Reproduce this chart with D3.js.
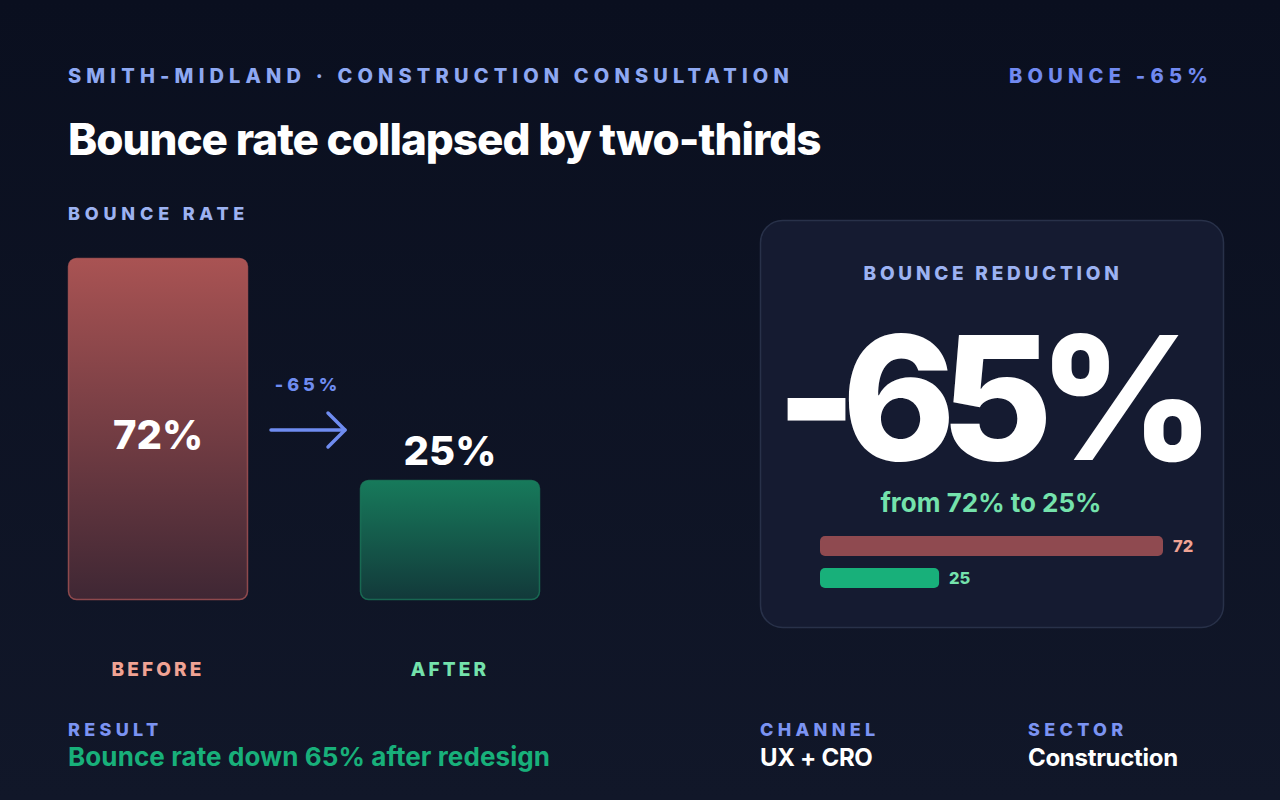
<!DOCTYPE html>
<html>
<head>
<meta charset="utf-8">
<script src="https://cdn.jsdelivr.net/npm/d3@7"></script>
<style>
  html, body { margin: 0; padding: 0; background: #0c1121; }
  svg { display: block; font-family: Inter, "Noto Sans", sans-serif; }
</style>
</head>
<body>
<div id="chart"></div>
<script>
var categories = ["BEFORE", "AFTER"];
var bounceRates = [72, 25];
var barLabels = ["72%", "25%"];
var changeLabel = "-65%";
var miniLabels = ["72", "25"];
var footerKeys = ["RESULT", "CHANNEL", "SECTOR"];
var footerValues = ["Bounce rate down 65% after redesign", "UX + CRO", "Construction"];

var width = 1280, height = 800;

var svg = d3.select("#chart").append("svg")
    .attr("width", width)
    .attr("height", height);

var defs = svg.append("defs");

function vGrad(id, top, bottom) {
  var g = defs.append("linearGradient").attr("id", id)
      .attr("x1", 0).attr("y1", 0).attr("x2", 0).attr("y2", 1);
  g.append("stop").attr("offset", "0%").attr("stop-color", top);
  g.append("stop").attr("offset", "100%").attr("stop-color", bottom);
}
vGrad("bg", "#0a0f1f", "#111729");
vGrad("gBefore", "#a95353", "#3f2734");
vGrad("gAfter", "#177a5b", "#12393a");

svg.append("rect").attr("width", width).attr("height", height).attr("fill", "url(#bg)");

// header
svg.append("text")
    .attr("x", 68).attr("y", 83)
    .attr("fill", "#8ea8f2")
    .attr("font-size", 20).attr("font-weight", 800)
    .attr("letter-spacing", 5.15)
    .text("SMITH-MIDLAND · CONSTRUCTION CONSULTATION");

svg.append("text")
    .attr("x", 1213).attr("y", 83)
    .attr("text-anchor", "end")
    .attr("fill", "#7189f0")
    .attr("font-size", 20).attr("font-weight", 800)
    .attr("letter-spacing", 5.25)
    .text("BOUNCE " + changeLabel);

svg.append("text")
    .attr("x", 68).attr("y", 155)
    .attr("fill", "#ffffff")
    .attr("font-size", 44).attr("font-weight", 800)
    .attr("letter-spacing", -1)
    .text("Bounce rate collapsed by two-thirds");

svg.append("text")
    .attr("x", 68).attr("y", 220)
    .attr("fill", "#9cb2f2")
    .attr("font-size", 18).attr("font-weight", 800)
    .attr("letter-spacing", 4.8)
    .text("BOUNCE RATE");

// main bars
var x = d3.scalePoint().domain(categories).range([158, 450]);
var barW = 180;
var y = d3.scaleLinear().domain([0, 72]).range([600, 260]);
var fills = ["url(#gBefore)", "url(#gAfter)"];
var strokes = ["#b05858", "#1b7c5c"];
var catColors = ["#f0a394", "#74e2ac"];

var bars = svg.append("g");
bars.selectAll("rect").data(bounceRates).enter().append("rect")
    .attr("x", function(d, i) { return x(categories[i]) - barW / 2 + 0.5; })
    .attr("y", function(d) { return y(d) - 1.5; })
    .attr("width", barW - 1)
    .attr("height", function(d) { return y(0) - y(d) + 1; })
    .attr("rx", 8)
    .attr("fill", function(d, i) { return fills[i]; })
    .attr("stroke", function(d, i) { return strokes[i]; })
    .attr("stroke-opacity", 0.75)
    .attr("stroke-width", 1.5);

bars.selectAll("text.val").data(bounceRates).enter().append("text")
    .attr("class", "val")
    .attr("x", function(d, i) { return x(categories[i]); })
    .attr("y", function(d, i) { return i === 0 ? (y(d) + y(0)) / 2 + 19 : y(d) - 17; })
    .attr("text-anchor", "middle")
    .attr("fill", "#ffffff")
    .attr("font-size", 40).attr("font-weight", 800)
    .text(function(d, i) { return barLabels[i]; });

bars.selectAll("text.cat").data(categories).enter().append("text")
    .attr("class", "cat")
    .attr("x", function(d) { return x(d); })
    .attr("y", 676)
    .attr("text-anchor", "middle")
    .attr("fill", function(d, i) { return catColors[i]; })
    .attr("font-size", 19).attr("font-weight", 800)
    .attr("letter-spacing", 3.1)
    .text(function(d) { return d; });

// arrow between bars
var arrow = svg.append("g").attr("stroke", "#6f8cf0").attr("stroke-width", 3.5)
    .attr("stroke-linecap", "round").attr("stroke-linejoin", "round").attr("fill", "none");
arrow.append("line").attr("x1", 271).attr("y1", 430).attr("x2", 345).attr("y2", 430);
arrow.append("path").attr("d", "M328,413 L345,430 L328,447");

svg.append("text")
    .attr("x", 308).attr("y", 391)
    .attr("text-anchor", "middle")
    .attr("fill", "#6f8cf0")
    .attr("font-size", 18).attr("font-weight", 800)
    .attr("letter-spacing", 4)
    .text(changeLabel);

// card
var card = svg.append("g");
card.append("rect")
    .attr("x", 760.5).attr("y", 220.5)
    .attr("width", 463).attr("height", 407)
    .attr("rx", 22)
    .attr("fill", "#151b31")
    .attr("stroke", "#283149")
    .attr("stroke-width", 1.5);

card.append("text")
    .attr("x", 993).attr("y", 280)
    .attr("text-anchor", "middle")
    .attr("fill", "#9cb2f2")
    .attr("font-size", 19).attr("font-weight", 800)
    .attr("letter-spacing", 3.75)
    .text("BOUNCE REDUCTION");

card.append("text")
    .attr("x", 988).attr("y", 460)
    .attr("text-anchor", "middle")
    .attr("fill", "#ffffff")
    .attr("font-size", 172).attr("font-weight", 800)
    .attr("letter-spacing", -15)
    .text(changeLabel);

card.append("text")
    .attr("x", 991).attr("y", 512)
    .attr("text-anchor", "middle")
    .attr("fill", "#74e2ac")
    .attr("font-size", 26).attr("font-weight", 700)
    .attr("letter-spacing", 0)
    .text("from " + barLabels[0] + " to " + barLabels[1]);

var mx = d3.scaleLinear().domain([0, 72]).range([820, 1163]);
var my = d3.scaleBand().domain(categories).range([536, 588]).paddingInner(0.375);
var miniFill = ["#8f4a50", "#18b07a"];

card.selectAll("rect.mini").data(bounceRates).enter().append("rect")
    .attr("class", "mini")
    .attr("x", mx(0))
    .attr("y", function(d, i) { return my(categories[i]); })
    .attr("width", function(d) { return mx(d) - mx(0); })
    .attr("height", my.bandwidth())
    .attr("rx", 5)
    .attr("fill", function(d, i) { return miniFill[i]; });

card.selectAll("text.mini").data(bounceRates).enter().append("text")
    .attr("class", "mini")
    .attr("x", function(d) { return mx(d) + 10; })
    .attr("y", function(d, i) { return my(categories[i]) + my.bandwidth() / 2 + 6; })
    .attr("fill", function(d, i) { return catColors[i]; })
    .attr("font-size", 16.5).attr("font-weight", 800)
    .text(function(d, i) { return miniLabels[i]; });

// footer
var footX = [68, 760, 1028];
var footColors = ["#18b07a", "#ffffff", "#ffffff"];
var footSize = [26, 24, 24];
var footSpacing = [0.1, -0.3, -0.3];
var foot = svg.append("g");
foot.selectAll("text.k").data(footerKeys).enter().append("text")
    .attr("class", "k")
    .attr("x", function(d, i) { return footX[i]; })
    .attr("y", 736)
    .attr("fill", "#7b93f2")
    .attr("font-size", 18).attr("font-weight", 800)
    .attr("letter-spacing", 4.3)
    .text(function(d) { return d; });

foot.selectAll("text.v").data(footerValues).enter().append("text")
    .attr("class", "v")
    .attr("x", function(d, i) { return footX[i]; })
    .attr("y", 766)
    .attr("fill", function(d, i) { return footColors[i]; })
    .attr("font-size", function(d, i) { return footSize[i]; })
    .attr("font-weight", 700)
    .attr("letter-spacing", function(d, i) { return footSpacing[i]; })
    .text(function(d) { return d; });
</script>
</body>
</html>
